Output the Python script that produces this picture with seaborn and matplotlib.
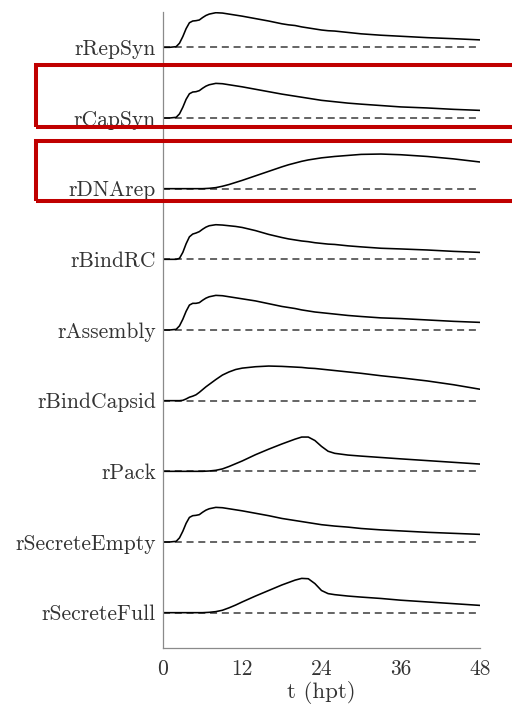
import numpy as np
import pandas as pd
import matplotlib
matplotlib.use("Agg")
import matplotlib.pyplot as plt
from matplotlib.patches import Rectangle
import seaborn as sns

# Reaction names, top to bottom
reactions = ["rRepSyn", "rCapSyn", "rDNArep", "rBindRC", "rAssembly",
             "rBindCapsid", "rPack", "rSecreteEmpty", "rSecreteFull"]

# Time points (hours post transfection)
t_hpt = [0, 1, 2, 2.5, 3, 3.5, 4, 4.5, 5, 5.5, 6, 6.5, 7, 8, 9, 10, 11, 12,
         14, 16, 18, 19, 20, 21, 22, 23, 24, 25, 26, 28, 30, 33, 36, 40, 44, 48]

# Normalised reaction rates (peak = 1)
rRepSyn = [0, 0, 0.02, 0.12, 0.31, 0.54, 0.71, 0.76, 0.77, 0.79, 0.86, 0.92,
           0.96, 1.0, 0.99, 0.96, 0.93, 0.90, 0.83, 0.76, 0.68, 0.65, 0.63,
           0.59, 0.56, 0.53, 0.50, 0.48, 0.47, 0.43, 0.39, 0.35, 0.32, 0.28,
           0.25, 0.215]
rCapSyn = [0, 0, 0.02, 0.12, 0.31, 0.54, 0.70, 0.75, 0.76, 0.79, 0.86, 0.92,
           0.96, 1.0, 0.99, 0.96, 0.93, 0.90, 0.83, 0.76, 0.69, 0.66, 0.63,
           0.60, 0.57, 0.54, 0.51, 0.49, 0.47, 0.43, 0.40, 0.36, 0.32, 0.29,
           0.25, 0.22]
rDNArep = [0, 0, 0, 0, 0, 0, 0, 0, 0, 0, 0, 0.005, 0.01, 0.03, 0.07, 0.12,
           0.18, 0.24, 0.37, 0.50, 0.63, 0.69, 0.74, 0.79, 0.83, 0.86, 0.89,
           0.91, 0.93, 0.96, 0.99, 1.0, 0.98, 0.93, 0.86, 0.77]
rBindRC = [0, 0, 0, 0.03, 0.20, 0.45, 0.65, 0.73, 0.76, 0.80, 0.87, 0.93,
           0.97, 1.0, 0.99, 0.97, 0.95, 0.92, 0.83, 0.72, 0.63, 0.59, 0.56,
           0.53, 0.51, 0.48, 0.46, 0.44, 0.43, 0.39, 0.36, 0.32, 0.30, 0.27,
           0.23, 0.20]
rAssembly = [0, 0, 0.02, 0.12, 0.31, 0.54, 0.72, 0.77, 0.77, 0.79, 0.86, 0.92,
             0.96, 1.0, 0.99, 0.96, 0.93, 0.90, 0.84, 0.76, 0.68, 0.65, 0.62,
             0.58, 0.55, 0.52, 0.50, 0.48, 0.46, 0.42, 0.39, 0.35, 0.33, 0.29,
             0.25, 0.22]
rBindCapsid = [0, 0, 0, 0, 0.01, 0.05, 0.10, 0.13, 0.17, 0.24, 0.32, 0.40,
               0.47, 0.61, 0.74, 0.83, 0.90, 0.94, 0.98, 1.0, 0.99, 0.98, 0.97,
               0.96, 0.94, 0.93, 0.91, 0.89, 0.87, 0.83, 0.79, 0.72, 0.66,
               0.57, 0.46, 0.33]
rPack = [0, 0, 0, 0, 0, 0, 0, 0, 0, 0, 0, 0.005, 0.01, 0.03, 0.07, 0.14, 0.22,
         0.30, 0.48, 0.64, 0.79, 0.86, 0.93, 0.99, 0.99, 0.89, 0.72, 0.58, 0.52,
         0.47, 0.44, 0.40, 0.36, 0.31, 0.26, 0.21]
rSecreteEmpty = [0, 0, 0.02, 0.12, 0.31, 0.54, 0.71, 0.76, 0.77, 0.79, 0.86,
                 0.92, 0.96, 1.0, 0.99, 0.96, 0.93, 0.90, 0.83, 0.76, 0.68,
                 0.65, 0.62, 0.59, 0.56, 0.53, 0.50, 0.48, 0.46, 0.43, 0.39,
                 0.35, 0.32, 0.28, 0.25, 0.22]
rSecreteFull = [0, 0, 0, 0, 0, 0, 0, 0, 0, 0, 0, 0.005, 0.01, 0.03, 0.07,
                0.14, 0.22, 0.31, 0.48, 0.64, 0.80, 0.87, 0.94, 0.99, 0.98,
                0.84, 0.64, 0.55, 0.52, 0.48, 0.45, 0.41, 0.36, 0.31, 0.26,
                0.21]

series = [rRepSyn, rCapSyn, rDNArep, rBindRC, rAssembly,
          rBindCapsid, rPack, rSecreteEmpty, rSecreteFull]

x_ticks = [0, 12, 24, 36, 48]
x_label = "t (hpt)"

# Ridge layout: each trace sits on its own baseline, one row apart
AMP = 0.49
FS = 15.5

rows = []
for k, (name, vals) in enumerate(zip(reactions, series)):
    for t, v in zip(t_hpt, vals):
        rows.append({"reaction": name, "t": t, "y": k - AMP * v, "base": k})
df = pd.DataFrame(rows)

sns.set_theme(style="white")
plt.rcParams["font.family"] = ["cmr10", "DejaVu Serif"]
plt.rcParams["axes.formatter.use_mathtext"] = True
plt.rcParams["mathtext.fontset"] = "cm"

fig = plt.figure(figsize=(5.12, 7.06), dpi=100)
ax = fig.add_axes([163 / 512, 58 / 706, 317 / 512, 636 / 706])

for name in reactions:
    sub = df[df["reaction"] == name]
    sns.lineplot(data=sub, x="t", y="base", ax=ax, color="#3a3a3a",
                 linestyle=(0, (4.6, 3.1)), linewidth=1.1, legend=False)
    sns.lineplot(data=sub, x="t", y="y", ax=ax, color="black",
                 linewidth=1.15, legend=False)

ax.set_xlim(0, 48)
ax.set_ylim(len(reactions) - 0.5, -0.5)
ax.set_xticks(x_ticks)
ax.set_xticklabels([str(v) for v in x_ticks])
ax.set_yticks(range(len(reactions)))
ax.set_yticklabels(reactions)
ax.set_xlabel(x_label, fontsize=16.5, color="#333333", labelpad=1)
ax.set_ylabel("")

for side in ["top", "right"]:
    ax.spines[side].set_visible(False)
for side in ["left", "bottom"]:
    ax.spines[side].set_color("#8a8a8a")
    ax.spines[side].set_linewidth(0.9)

ax.tick_params(axis="x", direction="in", length=5, width=0.9,
               color="#8a8a8a", labelsize=FS, labelcolor="#333333", pad=8.5)
ax.tick_params(axis="y", length=0, labelsize=FS, labelcolor="#333333",
               pad=5)
ax.set_facecolor("white")

# Highlight boxes around the capsid-synthesis and DNA-replication rows
W, H = 512, 706
for top, bottom in [(65.3, 127.3), (140.5, 201.3)]:
    rect = Rectangle((36.3 / W, 1 - bottom / H), (540 - 36.3) / W,
                     (bottom - top) / H, transform=fig.transFigure,
                     fill=False, edgecolor="#c00000", linewidth=2.9,
                     clip_on=False)
    fig.add_artist(rect)

fig.savefig("out.png", dpi=100, facecolor="white")
